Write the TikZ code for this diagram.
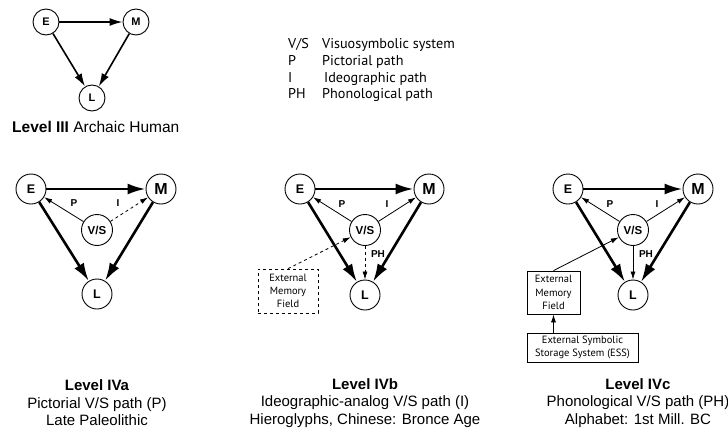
\documentclass[tikz,border=0pt]{standalone}
\usepackage{fontspec}
\setmainfont{Liberation Sans}
\newfontfamily\myriad{PT Sans}
\usetikzlibrary{arrows.meta}
\tikzset{
  circIII/.style={circle,draw,line width=0.9pt,minimum size=26pt,inner sep=0pt,font=\bfseries\fontsize{11}{12}\selectfont},
  circIV/.style={circle,draw,line width=0.9pt,minimum size=30pt,inner sep=0pt,font=\bfseries\fontsize{12.5}{13}\selectfont},
  bigM/.style={font=\bfseries\fontsize{16}{17}\selectfont},
  vsnode/.style={circle,draw,line width=0.9pt,minimum size=31pt,inner sep=0pt,font=\bfseries\fontsize{11.5}{12}\selectfont},
  arrIII/.style={line width=1.6pt,-{Latex[length=13pt,width=8pt]}},
  arrIV/.style={line width=2.6pt,-{Latex[length=18pt,width=11pt]}},
  arrthin/.style={line width=0.8pt,-{Latex[length=8pt,width=5pt]}},
  pathlbl/.style={font=\bfseries\fontsize{10}{10}\selectfont,inner sep=0pt},
  memBox/.style={draw,line width=0.8pt,align=center,inner sep=0pt,font=\myriad\fontsize{10.5}{13.3}\selectfont},
  legtxt/.style={anchor=base west,inner sep=0pt,font=\myriad\fontsize{14.2}{16}\selectfont},
  captxt/.style={align=center,inner sep=0pt,font=\fontsize{15}{17.5}\selectfont},
}
\begin{document}
\begin{tikzpicture}[x=1pt,y=-1pt]
\useasboundingbox (0,0) rectangle (728,434);

% Level III
\node[circIII] (e0) at (46,22) {E};
\node[circIII] (m0) at (136,22) {M};
\node[circIII] (l0) at (92,98) {L};
\draw[arrIII] (e0) -- (m0);
\draw[arrIII] (e0) -- (l0);
\draw[arrIII] (m0) -- (l0);
\node[anchor=base west,inner sep=0pt,font=\fontsize{15.5}{17}\selectfont] (t0) at (12,132) {\textbf{Level III} Archaic Human};

% Legend
\node[legtxt] (k1) at (288,48) {V/S};
\node[legtxt] (d1) at (322,48) {Visuosymbolic system};
\node[legtxt] (k2) at (288,65) {P};
\node[legtxt] (d2) at (322,65) {Pictorial path};
\node[legtxt] (k3) at (288,82) {I};
\node[legtxt] (d3) at (324,82) {Ideographic path};
\node[legtxt] (k4) at (288,98) {PH};
\node[legtxt] (d4) at (322,98) {Phonological path};

% Level IVa
\node[circIV] (ea) at (31,189) {E};
\node[circIV,bigM] (ma) at (161,189) {M};
\node[vsnode] (va) at (97,230) {V/S};
\node[circIV] (la) at (97,294) {L};
\draw[arrIV] (ea) -- (ma);
\draw[arrIV] (ea) -- (la);
\draw[arrIV] (ma) -- (la);
\draw[arrthin] (va) -- (ea);
\draw[arrthin,dashed] (va) -- (ma);
\node[pathlbl] (pa) at (74,203) {P};
\node[pathlbl] (ia) at (118,203) {I};
\node[captxt] (capa) at (97,403) {\textbf{Level IVa}\\Pictorial V/S path (P)\\Late Paleolithic};

% Level IVb
\node[circIV] (eb) at (300,189) {E};
\node[circIV,bigM] (mb) at (429,189) {M};
\node[vsnode] (vb) at (365,230) {V/S};
\node[circIV] (lb) at (365,295) {L};
\draw[arrIV] (eb) -- (mb);
\draw[arrIV] (eb) -- (lb);
\draw[arrIV] (mb) -- (lb);
\draw[arrthin] (vb) -- (eb);
\draw[arrthin] (vb) -- (mb);
\draw[arrthin,dashed] (vb) -- (lb);
\node[pathlbl] (pb) at (342,204) {P};
\node[pathlbl] (ib) at (387,204) {I};
\node[pathlbl] (phb) at (378,254) {PH};
\node[memBox,dashed,minimum width=60pt,minimum height=44pt] (emb) at (288,291) {External\\Memory\\Field};
\draw[arrthin,dashed] (emb.north) -- (vb);
\node[captxt] (capb) at (365,403) {\textbf{Level IVb}\\Ideographic-analog V/S path (I)\\Hieroglyphs, Chinese: Bronce Age};

% Level IVc
\node[circIV] (ec) at (568,189) {E};
\node[circIV,bigM] (mc) at (698,189) {M};
\node[vsnode] (vc) at (633,230) {V/S};
\node[circIV] (lc) at (633,295) {L};
\draw[arrIV] (ec) -- (mc);
\draw[arrIV] (ec) -- (lc);
\draw[arrIV] (mc) -- (lc);
\draw[arrthin] (vc) -- (ec);
\draw[arrthin] (vc) -- (mc);
\draw[arrthin] (vc) -- (lc);
\node[pathlbl] (pc) at (610,204) {P};
\node[pathlbl] (ic) at (657,204) {I};
\node[pathlbl] (phc) at (646,254) {PH};
\node[memBox,minimum width=53pt,minimum height=43pt] (emc) at (553.5,292.5) {External\\Memory\\Field};
\node[memBox,minimum width=111pt,minimum height=29pt] (ess) at (582.5,347.5) {External Symbolic\\Storage System (ESS)};
\draw[arrthin] (emc.north) -- (vc);
\draw[arrthin] (ess.north -| emc) -- (emc.south);
\node[captxt] (capc) at (638,403) {\textbf{Level IVc}\\Phonological V/S path (PH)\\Alphabet: 1st Mill. BC};
\end{tikzpicture}
\end{document}
